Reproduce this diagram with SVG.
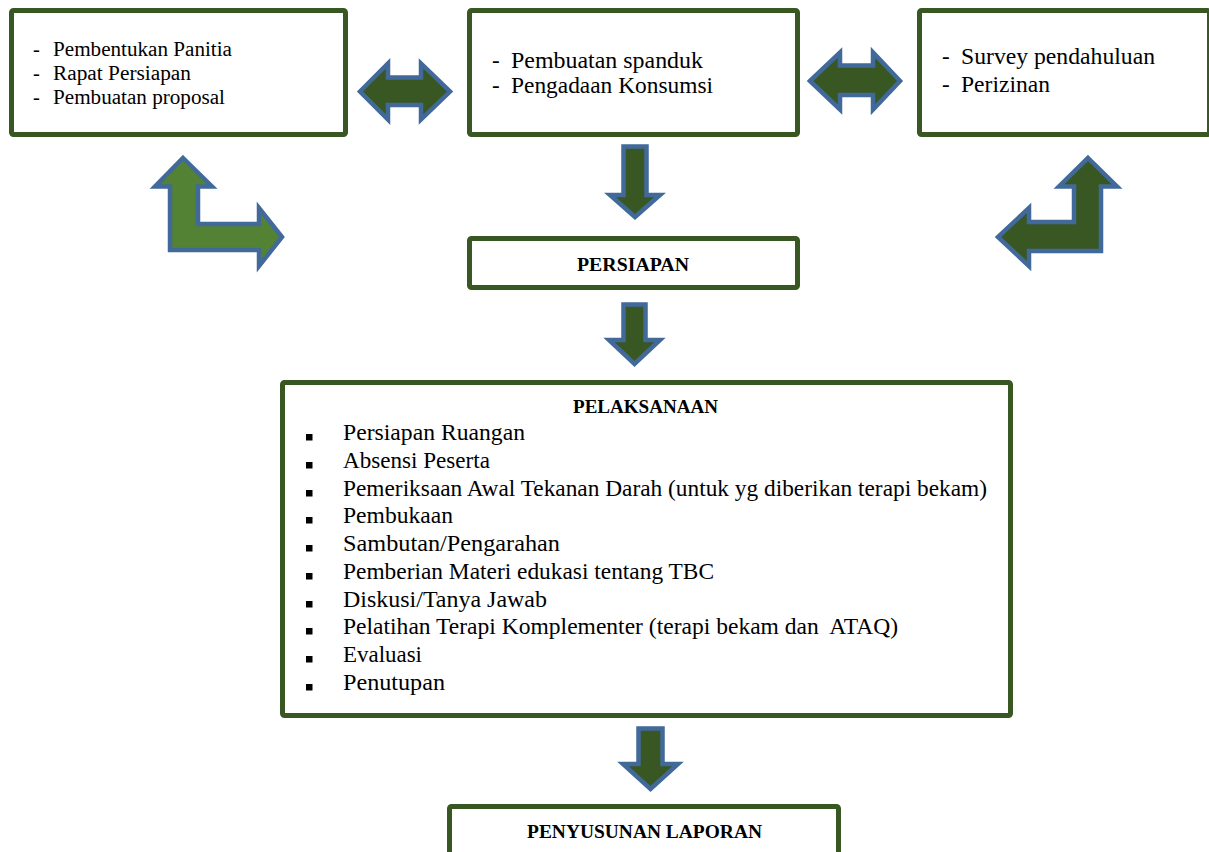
<svg xmlns="http://www.w3.org/2000/svg" width="1209" height="852" viewBox="0 0 1209 852">
<style>
.box{fill:#fff;stroke:#385723;stroke-width:5;}
.arr{fill:#385723;stroke:#41699a;stroke-width:4.5;stroke-linejoin:miter;stroke-miterlimit:10;}
.arrl{fill:#548235;stroke:#41699a;stroke-width:4.5;stroke-linejoin:miter;stroke-miterlimit:10;}
.t{font-family:"Liberation Serif","Times New Roman",serif;fill:#000;}
.s19{font-size:20.5px;}
.s22{font-size:23px;}
.b{font-family:"Liberation Serif","Times New Roman",serif;font-weight:bold;font-size:19px;fill:#000;}
.bul{fill:#000;}
</style>
<rect width="1209" height="852" fill="#fff"/>
<g id="connectors">
<polygon class="arr" points="360,91.5 388,63.5 388,77.5 421,77.5 421,63.5 450,91.5 421,119.5 421,105 388,105 388,119.5"/>
<polygon class="arr" points="810,81 840,52.5 840,65.5 873,65.5 873,52.5 900,81 873,109.5 873,95 840,95 840,109.5"/>
<polygon class="arrl" points="183,158 212,186.5 198,186.5 198,224 259,224 259,208 282,237 259,266 259,250 170,250 170,186.5 155,186.5"/>
<polygon class="arr" points="1088,158 1117,186.5 1101,186.5 1101,251 1029,251 1029,266 998,237 1029,208 1029,222 1074,222 1074,186.5 1059,186.5"/>
<polygon class="arr" points="623.5,146.5 646.5,146.5 646.5,195 660,195 635,217 610,195 623.5,195"/>
<polygon class="arr" points="623.5,304.5 645.5,304.5 645.5,340 660,340 634.5,364 609,340 623.5,340"/>
<polygon class="arr" points="638.5,728.5 662.5,728.5 662.5,764 678,764 650.5,789 623,764 638.5,764"/>
</g>
<g id="node-panitia">
<rect class="box" x="11.5" y="10.5" width="334" height="124" rx="2"/>
<text class="t s19" x="33" y="55.5">-</text>
<text class="t s19" x="53" y="55.5" textLength="179" lengthAdjust="spacingAndGlyphs">Pembentukan Panitia</text>
<text class="t s19" x="33" y="80">-</text>
<text class="t s19" x="53" y="80" textLength="138" lengthAdjust="spacingAndGlyphs">Rapat Persiapan</text>
<text class="t s19" x="33" y="104">-</text>
<text class="t s19" x="53" y="104" textLength="172" lengthAdjust="spacingAndGlyphs">Pembuatan proposal</text>
</g>
<g id="node-spanduk">
<rect class="box" x="469.5" y="10.5" width="328" height="124" rx="2"/>
<text class="t s22" x="492" y="68">-</text>
<text class="t s22" x="511" y="68" textLength="192" lengthAdjust="spacingAndGlyphs">Pembuatan spanduk</text>
<text class="t s22" x="492" y="93">-</text>
<text class="t s22" x="511" y="93" textLength="202" lengthAdjust="spacingAndGlyphs">Pengadaan Konsumsi</text>
</g>
<g id="node-survey">
<rect class="box" x="919.5" y="10.5" width="290" height="124" rx="2"/>
<text class="t s22" x="942" y="64">-</text>
<text class="t s22" x="961" y="64" textLength="194" lengthAdjust="spacingAndGlyphs">Survey pendahuluan</text>
<text class="t s22" x="942" y="92">-</text>
<text class="t s22" x="961" y="92" textLength="89" lengthAdjust="spacingAndGlyphs">Perizinan</text>
</g>
<g id="node-persiapan">
<rect class="box" x="469.5" y="238.5" width="328" height="49" rx="2"/>
<text class="b" x="633" y="271" text-anchor="middle" textLength="112" lengthAdjust="spacingAndGlyphs">PERSIAPAN</text>
</g>
<g id="node-pelaksanaan">
<rect class="box" x="282.5" y="382.5" width="728" height="333" rx="2"/>
<text class="b" x="645.5" y="413" text-anchor="middle" textLength="145" lengthAdjust="spacingAndGlyphs">PELAKSANAAN</text>
<rect class="bul" x="306" y="434" width="6.5" height="6.5"/>
<text class="t s22" x="343" y="440" textLength="182" lengthAdjust="spacingAndGlyphs">Persiapan Ruangan</text>
<rect class="bul" x="306" y="462" width="6.5" height="6.5"/>
<text class="t s22" x="343" y="468" textLength="147" lengthAdjust="spacingAndGlyphs">Absensi Peserta</text>
<rect class="bul" x="306" y="490" width="6.5" height="6.5"/>
<text class="t s22" x="343" y="496" textLength="644" lengthAdjust="spacingAndGlyphs">Pemeriksaan Awal Tekanan Darah (untuk yg diberikan terapi bekam)</text>
<rect class="bul" x="306" y="517" width="6.5" height="6.5"/>
<text class="t s22" x="343" y="523" textLength="110" lengthAdjust="spacingAndGlyphs">Pembukaan</text>
<rect class="bul" x="306" y="545" width="6.5" height="6.5"/>
<text class="t s22" x="343" y="551" textLength="217" lengthAdjust="spacingAndGlyphs">Sambutan/Pengarahan</text>
<rect class="bul" x="306" y="573" width="6.5" height="6.5"/>
<text class="t s22" x="343" y="579" textLength="371" lengthAdjust="spacingAndGlyphs">Pemberian Materi edukasi tentang TBC</text>
<rect class="bul" x="306" y="601" width="6.5" height="6.5"/>
<text class="t s22" x="343" y="607" textLength="204" lengthAdjust="spacingAndGlyphs">Diskusi/Tanya Jawab</text>
<rect class="bul" x="306" y="628" width="6.5" height="6.5"/>
<text class="t s22" x="343" y="634" textLength="555" lengthAdjust="spacingAndGlyphs" xml:space="preserve">Pelatihan Terapi Komplementer (terapi bekam dan  ATAQ)</text>
<rect class="bul" x="306" y="656" width="6.5" height="6.5"/>
<text class="t s22" x="343" y="662" textLength="79" lengthAdjust="spacingAndGlyphs">Evaluasi</text>
<rect class="bul" x="306" y="684" width="6.5" height="6.5"/>
<text class="t s22" x="343" y="690" textLength="102" lengthAdjust="spacingAndGlyphs">Penutupan</text>
</g>
<g id="node-laporan">
<rect class="box" x="449.5" y="806.5" width="389" height="60" rx="2"/>
<text class="b" x="644.5" y="838" text-anchor="middle" textLength="235" lengthAdjust="spacingAndGlyphs">PENYUSUNAN LAPORAN</text>
</g>
</svg>
